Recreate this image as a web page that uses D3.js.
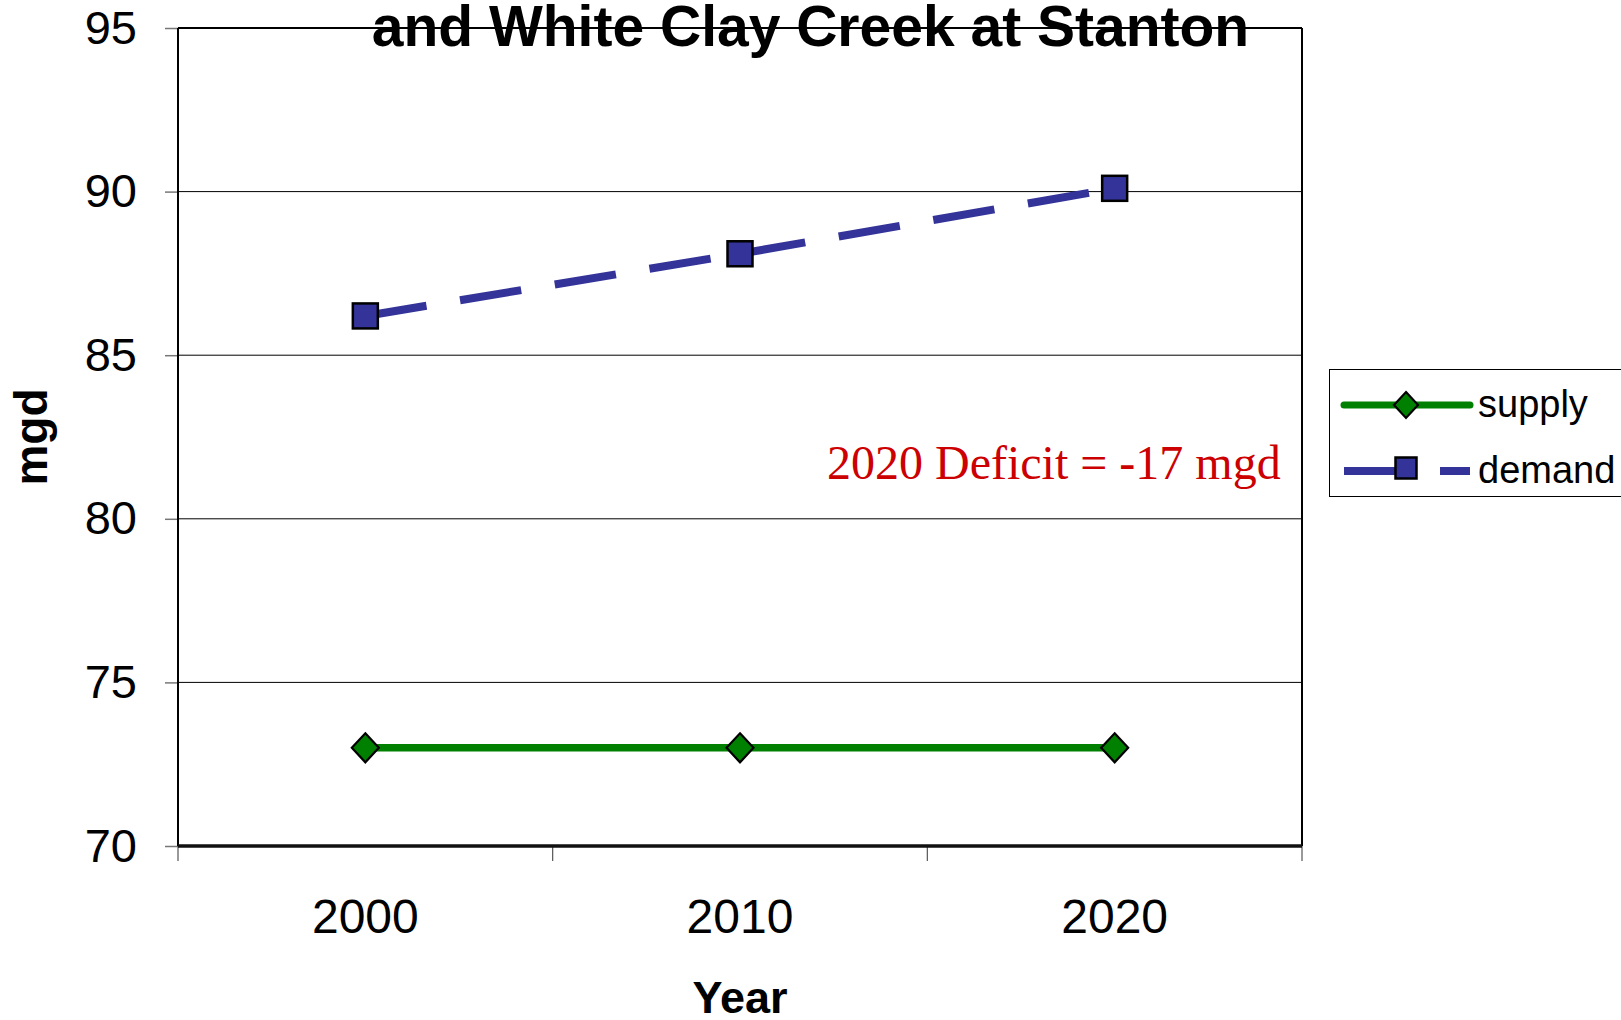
<!DOCTYPE html>
<html>
<head>
<meta charset="utf-8">
<script src="https://cdn.jsdelivr.net/npm/d3@7/dist/d3.min.js"></script>
<style>
  html, body { margin: 0; padding: 0; background: #ffffff; overflow: hidden; }
  svg { display: block; }
  text { font-family: "Liberation Sans", Arial, sans-serif; }
</style>
</head>
<body>
<svg id="chart" width="1621" height="1020"></svg>
<script>
// ---- data ----
const categories = ["2000", "2010", "2020"];
const supplyValues = [73, 73, 73];
const demandValues = [86.2, 88.1, 90.1];
const yTickValues = [70, 75, 80, 85, 90, 95];
const seriesNames = ["supply", "demand"];
const titleText = "and White Clay Creek at Stanton";
const xAxisTitle = "Year";
const yAxisTitle = "mgd";
const annotationText = "2020 Deficit = -17 mgd";

// ---- layout ----
const W = 1621, H = 1020;
const plot = { left: 178, right: 1302, top: 28, bottom: 846 };
const green = "#008000", blue = "#333399", red = "#cc0000";

const svg = d3.select("#chart");
svg.append("rect").attr("width", W).attr("height", H).attr("fill", "#fff");

const x = d3.scaleBand().domain(categories).range([plot.left, plot.right]).padding(0);
const y = d3.scaleLinear().domain([70, 95]).range([plot.bottom, plot.top]);
const cx = d => x(d) + x.bandwidth() / 2;

// gridlines
svg.append("g").selectAll("line")
  .data(yTickValues.filter(v => v > 70 && v < 95))
  .join("line")
  .attr("x1", plot.left).attr("x2", plot.right)
  .attr("y1", d => y(d)).attr("y2", d => y(d))
  .attr("stroke", "#000").attr("stroke-width", 1);

// y axis
const yAxis = d3.axisLeft(y).tickValues(yTickValues).tickSize(13).tickPadding(28).tickFormat(d3.format("d"));
const gy = svg.append("g").attr("transform", `translate(${plot.left},0)`).call(yAxis);
gy.select(".domain").remove();
gy.selectAll(".tick line").attr("stroke", "#777").attr("stroke-width", 1.5);
gy.selectAll(".tick text").style("font-size", "47px").style("font-family", '"Liberation Sans", Arial, sans-serif').style("fill", "#000");

// x axis labels (centered on bands)
const xAxis = d3.axisBottom(x).tickSize(0).tickPadding(53);
const gx = svg.append("g").attr("transform", `translate(0,${plot.bottom})`).call(xAxis);
gx.select(".domain").remove();
gx.selectAll(".tick text").style("font-size", "48px").style("font-family", '"Liberation Sans", Arial, sans-serif').style("fill", "#000");

// x tick marks at band boundaries
const bounds = categories.map(c => x(c)).concat([x(categories[categories.length - 1]) + x.bandwidth()]);
svg.append("g").selectAll("line").data(bounds).join("line")
  .attr("x1", d => d).attr("x2", d => d)
  .attr("y1", plot.bottom).attr("y2", plot.bottom + 15)
  .attr("stroke", "#555").attr("stroke-width", 1.2);

// title (visible second line)
svg.append("text")
  .attr("x", W / 2).attr("y", 46)
  .attr("text-anchor", "middle")
  .style("font-size", "57px").style("font-weight", "bold").style("fill", "#000")
  .text(titleText);

// plot frame
svg.append("line").attr("x1", plot.left).attr("x2", plot.right).attr("y1", plot.top).attr("y2", plot.top).attr("stroke", "#000").attr("stroke-width", 2);
svg.append("line").attr("x1", plot.left).attr("x2", plot.left).attr("y1", plot.top).attr("y2", plot.bottom).attr("stroke", "#000").attr("stroke-width", 2);
svg.append("line").attr("x1", plot.right).attr("x2", plot.right).attr("y1", plot.top).attr("y2", plot.bottom).attr("stroke", "#000").attr("stroke-width", 2);
svg.append("line").attr("x1", plot.left).attr("x2", plot.right).attr("y1", plot.bottom).attr("y2", plot.bottom).attr("stroke", "#111").attr("stroke-width", 3.5);

// lines
const line = d3.line().x((d, i) => cx(categories[i])).y(d => y(d));
svg.append("path").datum(supplyValues).attr("d", line)
  .attr("fill", "none").attr("stroke", green).attr("stroke-width", 7.5);
svg.append("path").datum(demandValues).attr("d", line)
  .attr("fill", "none").attr("stroke", blue).attr("stroke-width", 8)
  .attr("stroke-dasharray", "62,34");

// markers
const diamond = (px, py, w, h) => `M${px},${py - h / 2}L${px + w / 2},${py}L${px},${py + h / 2}L${px - w / 2},${py}Z`;
svg.append("g").selectAll("path").data(supplyValues).join("path")
  .attr("d", (d, i) => diamond(cx(categories[i]), y(d), 27, 29))
  .attr("fill", green).attr("stroke", "#000").attr("stroke-width", 2.2);
svg.append("g").selectAll("rect").data(demandValues).join("rect")
  .attr("x", (d, i) => cx(categories[i]) - 12.5).attr("y", d => y(d) - 12.5)
  .attr("width", 25).attr("height", 25)
  .attr("fill", blue).attr("stroke", "#000").attr("stroke-width", 2.5);

// annotation
svg.append("text")
  .attr("x", 827).attr("y", 479)
  .style("font-family", '"Liberation Serif", "Times New Roman", serif')
  .style("font-size", "48px").style("fill", red)
  .text(annotationText);

// axis titles
svg.append("text")
  .attr("x", 740).attr("y", 1013).attr("text-anchor", "middle")
  .style("font-size", "45px").style("font-weight", "bold").style("fill", "#000")
  .text(xAxisTitle);
svg.append("text")
  .attr("transform", "translate(47,437) rotate(-90)").attr("text-anchor", "middle")
  .style("font-size", "46px").style("font-weight", "bold").style("fill", "#000")
  .text(yAxisTitle);

// legend
const lg = svg.append("g");
lg.append("rect").attr("x", 1329.5).attr("y", 369.5).attr("width", 320).attr("height", 127)
  .attr("fill", "#fff").attr("stroke", "#000").attr("stroke-width", 1);
const legendY = [405, 471];
const lx1 = 1344, lx2 = 1470, lmid = 1406;
seriesNames.forEach((name, i) => {
  const ly = legendY[i];
  if (i === 0) {
    lg.append("line").attr("x1", lx1).attr("x2", lx2).attr("y1", ly).attr("y2", ly)
      .attr("stroke", green).attr("stroke-width", 7).attr("stroke-linecap", "round");
    lg.append("path").attr("d", diamond(lmid, ly, 24, 26))
      .attr("fill", green).attr("stroke", "#000").attr("stroke-width", 2.2);
  } else {
    lg.append("line").attr("x1", lx1).attr("x2", lx2).attr("y1", ly).attr("y2", ly)
      .attr("stroke", blue).attr("stroke-width", 8).attr("stroke-dasharray", "62,34");
    lg.append("rect").attr("x", lmid - 10.5).attr("y", ly - 13.5).attr("width", 21).attr("height", 21)
      .attr("fill", blue).attr("stroke", "#000").attr("stroke-width", 2.5);
  }
  lg.append("text").attr("x", 1478).attr("y", ly + 12)
    .style("font-size", "38px").style("fill", "#000").text(name);
});
</script>
</body>
</html>
